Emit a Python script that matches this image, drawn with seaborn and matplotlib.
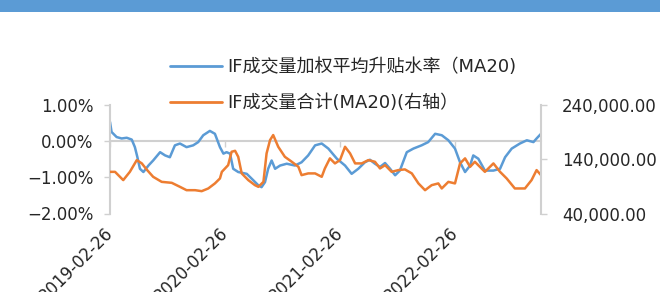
import pandas as pd
import matplotlib
matplotlib.use("Agg")
import matplotlib.pyplot as plt
import matplotlib.ticker as mticker
from matplotlib.patches import Rectangle
from matplotlib.lines import Line2D
import seaborn as sns

# dates are stored as days since the first trading day shown
start = pd.Timestamp("2019-02-26")
last_day = 1368

# IF weighted premium/discount rate, MA20 (%)
basis_days = [0, 5, 21, 37, 53, 69, 79, 87, 95, 106, 122, 137, 159, 175, 190, 206, 222, 243, 264, 280,
              296, 317, 333, 349, 360, 370, 381, 391, 407, 434, 455, 471, 481, 492, 502, 513, 524, 540, 561, 587,
              608, 629, 651, 672, 693, 720, 746, 767, 788, 809, 825, 841, 857, 873, 889, 905, 920, 942, 963, 989,
              1010, 1032, 1053, 1074, 1095, 1111, 1127, 1143, 1153, 1169, 1190, 1217, 1238, 1254, 1275, 1301,
              1323, 1344, 1354, 1368]
basis_pct = [0.54, 0.26, 0.12, 0.08, 0.10, 0.05, -0.16, -0.44, -0.76, -0.85, -0.67, -0.53, -0.30, -0.39,
             -0.44, -0.11, -0.06, -0.16, -0.11, -0.02, 0.17, 0.29, 0.21, -0.16, -0.34, -0.30, -0.34, -0.76,
             -0.85, -0.90, -1.08, -1.22, -1.27, -1.13, -0.76, -0.53, -0.76, -0.67, -0.62, -0.67, -0.58, -0.39,
             -0.11, -0.06, -0.20, -0.48, -0.67, -0.90, -0.76, -0.58, -0.51, -0.62, -0.71, -0.60, -0.76, -0.94,
             -0.81, -0.30, -0.20, -0.11, -0.02, 0.21, 0.17, 0.03, -0.20, -0.58, -0.85, -0.67, -0.39, -0.48,
             -0.81, -0.81, -0.76, -0.44, -0.20, -0.06, 0.03, -0.02, 0.08, 0.21]

# IF total volume, MA20 (right axis)
vol_days = [0, 16, 42, 63, 85, 101, 116, 137, 164, 196, 222, 243, 270, 291, 312, 333, 349, 355, 375, 386,
            397, 407, 418, 439, 460, 471, 487, 497, 508, 518, 534, 555, 577, 598, 608, 629, 651, 672, 682, 698,
            714, 730, 746, 762, 778, 799, 820, 841, 857, 873, 894, 915, 936, 958, 979, 1000, 1021, 1042, 1053,
            1074, 1095, 1111, 1127, 1143, 1158, 1174, 1190, 1217, 1238, 1259, 1285, 1317, 1338, 1354, 1368]
volume = [117000, 117000, 101700, 117000, 138700, 132600, 121500, 107800, 98500, 96700, 89300, 83100,
          83100, 81300, 86300, 95600, 104800, 117000, 129400, 154100, 155900, 144800, 114100, 101700,
          92400, 89300, 98500, 151100, 175700, 185000, 163300, 144800, 135600, 126300, 110900, 114100,
          114100, 107800, 123300, 141900, 132600, 138700, 163300, 151100, 132600, 132600, 138700, 135600,
          123300, 129400, 117000, 120200, 121500, 114100, 95600, 83100, 92400, 95600, 86300, 98500,
          95600, 132600, 141900, 126300, 135600, 126300, 117000, 132600, 117000, 104800, 86300, 86300,
          101700, 120200, 110900]

tick_dates = ["2019-02-26", "2020-02-26", "2021-02-26", "2022-02-26"]
label_basis = "IF成交量加权平均升贴水率（MA20)"
label_vol = "IF成交量合计(MA20)(右轴）"

blue = "#5b9bd5"
orange = "#ed7d31"
grey = "#d0d0d0"

sns.set_style("white")
plt.rcParams['font.family'] = ['DejaVu Sans', 'Noto Sans CJK TC']
plt.rcParams['font.size'] = 12
plt.rcParams['axes.unicode_minus'] = True

df_basis = pd.DataFrame({"date": start + pd.to_timedelta(basis_days, unit="D"), "rate": basis_pct})
df_vol = pd.DataFrame({"date": start + pd.to_timedelta(vol_days, unit="D"), "vol": volume})

fig = plt.figure(figsize=(6.6, 2.92), dpi=100)
fig.add_artist(Rectangle((0, 1 - 12 / 292), 1, 12 / 292, transform=fig.transFigure,
                         color=blue, lw=0))

ax = fig.add_axes([110 / 660, 1 - 213.5 / 292, 431 / 660, 108.2 / 292])
ax2 = ax.twinx()

sns.lineplot(data=df_basis, x="date", y="rate", ax=ax, color=blue, lw=1.8, legend=False)
sns.lineplot(data=df_vol, x="date", y="vol", ax=ax2, color=orange, lw=1.8, legend=False)

ax.set_xlim(start, start + pd.Timedelta(days=last_day))
ax.set_ylim(-2, 1)
ax.set_yticks([-2, -1, 0, 1])
ax.yaxis.set_major_formatter(mticker.FuncFormatter(lambda v, p: f"{v:.2f}%".replace("-", "\u2212")))
ax2.set_ylim(40000, 240000)
ax2.set_yticks([40000, 140000, 240000])
ax2.yaxis.set_major_formatter(mticker.FuncFormatter(lambda v, p: f"{v:,.2f}"))

ticks = pd.to_datetime(tick_dates)
ax.set_xticks(ticks)
ax.set_xticklabels(tick_dates, rotation=45, ha="right", va="center", rotation_mode="anchor")
ax.tick_params(axis="x", length=0, pad=12)
ax.tick_params(axis="y", length=4, width=1, color=grey, pad=8, direction="out")
ax2.tick_params(axis="y", length=4, width=1, color=grey, pad=11, direction="out")

for a in (ax, ax2):
    a.set_xlabel("")
    a.set_ylabel("")
    for s in a.spines.values():
        s.set_visible(False)
ax.spines["left"].set_visible(True)
ax.spines["left"].set_color(grey)
ax.spines["left"].set_linewidth(1.5)
ax2.spines["right"].set_visible(True)
ax2.spines["right"].set_color(grey)
ax2.spines["right"].set_linewidth(1.5)

# horizontal axis line at 0 with its tick marks
sec = ax.secondary_xaxis(2 / 3)
sec.set_xticks(ticks)
sec.tick_params(axis="x", direction="in", length=4, width=1, color=grey,
                labeltop=False, labelbottom=False)
for s in sec.spines.values():
    s.set_color(grey)
    s.set_linewidth(1.5)

# two legend rows, both starting at the same x
fig.legend(handles=[Line2D([], [], color=blue, lw=2)], labels=[label_basis],
           loc="center left", bbox_to_anchor=(170 / 660, 1 - 67 / 292), frameon=False,
           borderpad=0, borderaxespad=0, handlelength=2.88, handletextpad=0.28, fontsize=13)
fig.legend(handles=[Line2D([], [], color=orange, lw=2)], labels=[label_vol],
           loc="center left", bbox_to_anchor=(170 / 660, 1 - 103 / 292), frameon=False,
           borderpad=0, borderaxespad=0, handlelength=2.88, handletextpad=0.28, fontsize=13)

fig.savefig("out.png", dpi=100)
